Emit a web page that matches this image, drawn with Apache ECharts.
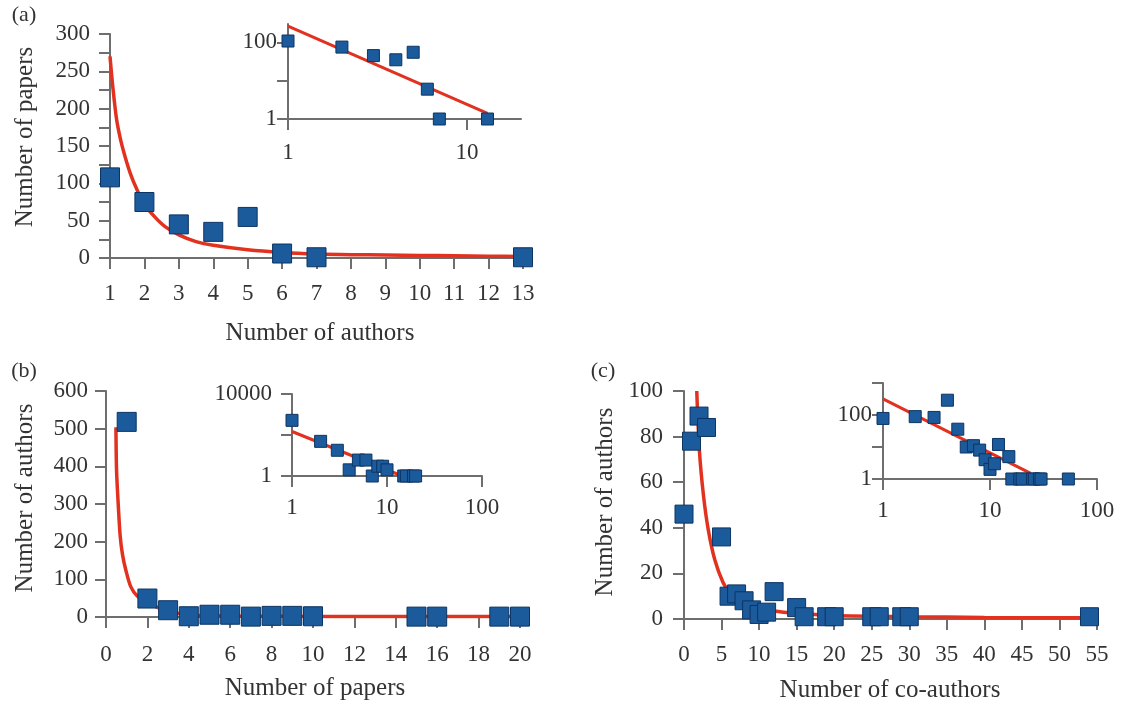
<!DOCTYPE html>
<html>
<head>
<meta charset="utf-8">
<title>Authors, papers and co-authors</title>
<script src="https://cdn.jsdelivr.net/npm/echarts@6/dist/echarts.min.js"></script>
<style>
  html, body { margin: 0; padding: 0; background: #fff; }
  #chart { width: 1123px; height: 707px; }
</style>
</head>
<body>
<div id="chart"></div>
<script>
// (a) number of papers by number of authors
const authorsA = [1, 2, 3, 4, 5, 6, 7, 13];
const papersA = [108, 75, 45, 35, 55, 6, 1, 1];
const fitAx = [1, 1.08, 1.19, 1.3, 1.43, 1.6, 1.77, 2, 2.3, 2.6, 3, 3.5, 4, 5, 6, 7, 8, 9, 10, 11, 12, 13];
const fitAy = [270, 230, 186, 160, 137, 112, 93, 72, 55, 42, 31, 22, 17, 11, 7.5, 5.5, 4.5, 4, 3.5, 3, 2.5, 2];
const logFitAx = [1, 13];
const logFitAy = [265, 1.4];

// (b) number of authors by number of papers
const papersB = [1, 2, 3, 4, 5, 6, 7, 8, 9, 10, 15, 16, 19, 20];
const authorsB = [518, 49, 18, 2, 6, 6, 1, 3, 3, 2, 1, 1, 1, 1];
const fitBx = [0.48, 0.51, 0.59, 0.69, 0.8, 0.96, 1.2, 1.52, 1.9, 2.3, 3, 4, 5, 7, 10, 14, 20];
const fitBy = [504, 390, 300, 212, 165, 124, 80, 55, 42, 30, 15, 6, 3, 2, 1.5, 1.2, 1];
const logFitBx = [1, 14.5];
const logFitBy = [148, 1];

// (c) number of authors by number of co-authors
const coauthorsC = [0, 1, 2, 3, 4, 5, 6, 7, 8, 9, 10, 11, 12, 15, 16, 19, 20, 25, 26, 29, 30, 54];
const authorsC = [46, 78, 89, 84, 290, 36, 10, 11, 8, 4, 2, 3, 12, 5, 1, 1, 1, 1, 1, 1, 1, 1];
const fitCx = [1.7, 2.05, 2.6, 3.24, 4.1, 5.2, 6, 7, 8, 10, 12, 15, 20, 30, 40, 55];
const fitCy = [100, 74, 54, 39, 26, 16, 12, 9, 7, 5, 3.5, 2.5, 1.5, 1, 0.7, 0.5];
const logFitCx = [1, 24];
const logFitCy = [320, 1.5];

const zip = (xs, ys) => xs.map((x, i) => [x, ys[i]]);
const positive = pts => pts.filter(p => p[0] > 0 && p[1] > 0);

const font = '"Liberation Serif", "Times New Roman", serif';
const axisCol = '#6e6e6e';
const textCol = '#333';
const blue = '#1b5a9b';
const blueEdge = '#0d3563';
const red = '#e2321f';

function axis(gridIndex, opts) {
    const a = {
        gridIndex: gridIndex,
        type: opts.type || 'value',
        min: opts.min,
        max: opts.max,
        splitLine: { show: false },
        axisLine: { show: true, onZero: false, lineStyle: { color: axisCol, width: 2 } },
        axisTick: { show: true, inside: false, length: 11, lineStyle: { color: axisCol, width: 2 } },
        axisLabel: {
            margin: opts.margin,
            color: textCol,
            fontFamily: font,
            fontSize: 23,
            showMinLabel: true,
            showMaxLabel: true,
            hideOverlap: false,
            formatter: v => String(v)
        }
    };
    if (opts.interval) a.interval = opts.interval;
    if (opts.type === 'log') a.logBase = 10;
    if (opts.ticks) a.axisTick.customValues = opts.ticks;
    if (opts.labels) a.axisLabel.customValues = opts.labels;
    if (opts.every) a.axisLabel.formatter = v => (v % opts.every === 0 ? String(v) : '');
    return a;
}

function dots(idx, pts, size) {
    return {
        type: 'scatter', xAxisIndex: idx, yAxisIndex: idx, data: pts,
        symbol: 'rect', symbolSize: size, z: 4, clip: true,
        itemStyle: { color: blue, borderColor: blueEdge, borderWidth: 1, opacity: 1 }
    };
}

function fit(idx, pts, width, smooth) {
    return {
        type: 'line', xAxisIndex: idx, yAxisIndex: idx, data: pts,
        showSymbol: false, symbol: 'none', smooth: smooth ? 0.3 : false,
        z: 3, clip: true,
        lineStyle: { color: red, width: width }
    };
}

function label(text, x, y, size, rotate) {
    return {
        type: 'text', x: x, y: y, rotation: rotate ? Math.PI / 2 : 0,
        style: { text: text, fill: textCol, fontFamily: font, fontSize: size, align: 'center', verticalAlign: 'middle' }
    };
}

const chart = echarts.init(document.getElementById('chart'), null, { renderer: 'canvas' });
chart.setOption({
    animation: false,
    backgroundColor: '#fff',
    grid: [
        { left: 110, top: 34, width: 413, height: 224 },
        { left: 288, top: 24, width: 233, height: 95 },
        { left: 106, top: 391, width: 414, height: 226 },
        { left: 292, top: 394, width: 190, height: 82 },
        { left: 684, top: 391, width: 413, height: 228 },
        { left: 883, top: 383, width: 214, height: 96 }
    ],
    xAxis: [
        axis(0, { min: 1, max: 13, interval: 1, margin: 24 }),
        axis(1, { type: 'log', min: 1, max: 20, ticks: [1, 10], labels: [1, 10], margin: 22 }),
        axis(2, { min: 0, max: 20, interval: 2, margin: 26 }),
        axis(3, { type: 'log', min: 1, max: 100, ticks: [1, 10, 100], labels: [1, 10, 100], margin: 20 }),
        axis(4, { min: 0, max: 55, interval: 5, margin: 24 }),
        axis(5, { type: 'log', min: 1, max: 100, ticks: [1, 10, 100], labels: [1, 10, 100], margin: 20 })
    ],
    yAxis: [
        axis(0, { min: 0, max: 300, interval: 25, every: 50, margin: 20 }),
        axis(1, { type: 'log', min: 1, max: 300, ticks: [1, 10, 100], labels: [1, 100], margin: 11 }),
        axis(2, { min: 0, max: 600, interval: 100, margin: 18 }),
        axis(3, { type: 'log', min: 1, max: 10000, ticks: [1, 100, 10000], labels: [1, 10000], margin: 20 }),
        axis(4, { min: 0, max: 100, interval: 20, margin: 21 }),
        axis(5, { type: 'log', min: 1, max: 1000, ticks: [1, 10, 100, 1000], labels: [1, 100], margin: 11 })
    ],
    series: [
        fit(0, zip(fitAx, fitAy), 3.5, true),
        dots(0, zip(authorsA, papersA), 19),
        fit(1, zip(logFitAx, logFitAy), 3, false),
        dots(1, positive(zip(authorsA, papersA)), 12),

        fit(2, zip(fitBx, fitBy), 3.5, true),
        dots(2, zip(papersB, authorsB), 19),
        fit(3, zip(logFitBx, logFitBy), 3, false),
        dots(3, positive(zip(papersB, authorsB)), 12),

        fit(4, zip(fitCx, fitCy), 3.5, true),
        dots(4, zip(coauthorsC, authorsC), 18),
        fit(5, zip(logFitCx, logFitCy), 3, false),
        dots(5, positive(zip(coauthorsC, authorsC)), 12)
    ],
    graphic: [
        label('(a)', 24, 15, 22),
        label('(b)', 24, 371, 22),
        label('(c)', 603, 371, 22),
        label('Number of authors', 320, 333, 25),
        label('Number of papers', 25, 137, 25, true),
        label('Number of papers', 315, 688, 25),
        label('Number of authors', 25, 498, 25, true),
        label('Number of co-authors', 890, 690, 25),
        label('Number of authors', 605, 502, 25, true)
    ]
});
</script>
</body>
</html>
